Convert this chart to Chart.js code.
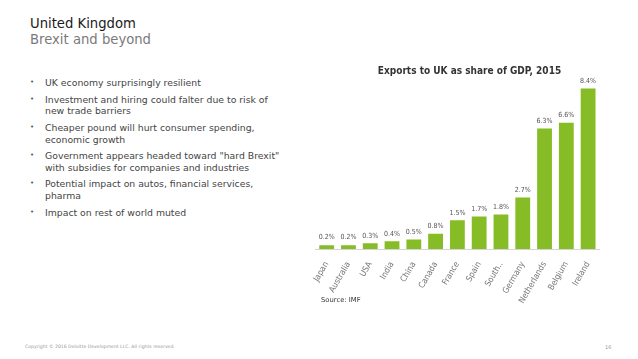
<!DOCTYPE html>
<html>
<head>
<meta charset="utf-8">
<script src="https://cdn.jsdelivr.net/npm/chart.js@4"></script>
<style>
  body { margin: 0; width: 638px; height: 359px; background: #fff; position: relative; overflow: hidden; font-family: 'DejaVu Sans', Verdana, sans-serif; }
  .head1 { position: absolute; left: 30px; top: 16px; font-size: 13.2px; color: #1a1a1a; }
  .head2 { position: absolute; left: 30px; top: 32px; font-size: 13.2px; color: #7a7a7a; }
  ul { position: absolute; left: 27px; top: 77px; margin: 0; padding: 0; list-style: none; font-size: 9.3px; color: #444; line-height: 11.7px; }
  li { position: relative; padding-left: 18px; margin-bottom: 4.9px; }
  li:before { content: "\2022"; position: absolute; left: 3px; top: 0; color: #555; font-size: 7px; }
  #chart { position: absolute; left: 313px; top: 60px; }
  .source { position: absolute; left: 321px; top: 296px; font-size: 6.8px; color: #333; }
  .foot { position: absolute; left: 25px; top: 344px; font-size: 4.6px; color: #999; }
  .page { position: absolute; left: 605px; top: 344px; font-size: 5px; color: #999; }
</style>
</head>
<body>
<div class="head1">United Kingdom</div>
<div class="head2">Brexit and beyond</div>
<ul>
  <li>UK economy surprisingly resilient</li>
  <li>Investment and hiring could falter due to risk of<br>new trade barriers</li>
  <li>Cheaper pound will hurt consumer spending,<br>economic growth</li>
  <li>Government appears headed toward "hard Brexit"<br>with subsidies for companies and industries</li>
  <li>Potential impact on autos, financial services,<br>pharma</li>
  <li>Impact on rest of world muted</li>
</ul>
<canvas id="chart" width="313" height="245"></canvas>
<div class="source">Source: IMF</div>
<div class="foot">Copyright © 2016 Deloitte Development LLC. All rights reserved.</div>
<div class="page">16</div>
<script>
// exports to UK as share of GDP, 2015 (%)
const countries = ['Japan', 'Australia', 'USA', 'India', 'China', 'Canada', 'France', 'Spain', 'South..', 'Germany', 'Netherlands', 'Belgium', 'Ireland'];
const shares = [0.2, 0.2, 0.3, 0.4, 0.5, 0.8, 1.5, 1.7, 1.8, 2.7, 6.3, 6.6, 8.4];
const chartTitle = 'Exports to UK as share of GDP, 2015';

const narrow = "'Liberation Sans Narrow', 'DejaVu Sans Condensed', sans-serif";

// value labels above the bars
const barLabels = {
    id: 'barLabels',
    afterDatasetsDraw(chart) {
        const ctx = chart.ctx;
        const meta = chart.getDatasetMeta(0);
        ctx.save();
        ctx.font = '7px ' + narrow;
        ctx.fillStyle = '#555';
        ctx.textAlign = 'center';
        ctx.textBaseline = 'bottom';
        meta.data.forEach(function (bar, i) {
            ctx.fillText(shares[i].toFixed(1) + '%', bar.x, bar.y - 4);
        });
        ctx.restore();
    }
};

const ctx = document.getElementById('chart').getContext('2d');
const exportChart = new Chart(ctx, {
    type: 'bar',
    data: {
        labels: countries,
        datasets: [{
            data: shares,
            backgroundColor: '#86bc25',
            barPercentage: 0.68,
            categoryPercentage: 1
        }]
    },
    options: {
        responsive: false,
        animation: false,
        devicePixelRatio: 1,
        layout: { padding: 0 },
        plugins: {
            legend: { display: false },
            tooltip: { enabled: false },
            title: {
                display: true,
                text: chartTitle,
                color: '#333',
                font: { family: narrow, size: 10, weight: 'bold', lineHeight: 1.2 },
                padding: { top: 5, bottom: 0 }
            }
        },
        scales: {
            x: {
                grid: { display: false },
                border: { display: true, color: '#d4d4d4', width: 1 },
                ticks: {
                    autoSkip: false,
                    minRotation: 60,
                    maxRotation: 60,
                    padding: 3,
                    color: '#777',
                    font: { family: narrow, size: 8.5 }
                },
                afterFit: function (scale) { scale.height = 56; }
            },
            y: {
                position: 'right',
                min: 0,
                max: 9,
                grid: { display: false },
                border: { display: false },
                ticks: { display: false },
                afterFit: function (scale) { scale.width = 27; }
            }
        }
    },
    plugins: [barLabels]
});
</script>
</body>
</html>
